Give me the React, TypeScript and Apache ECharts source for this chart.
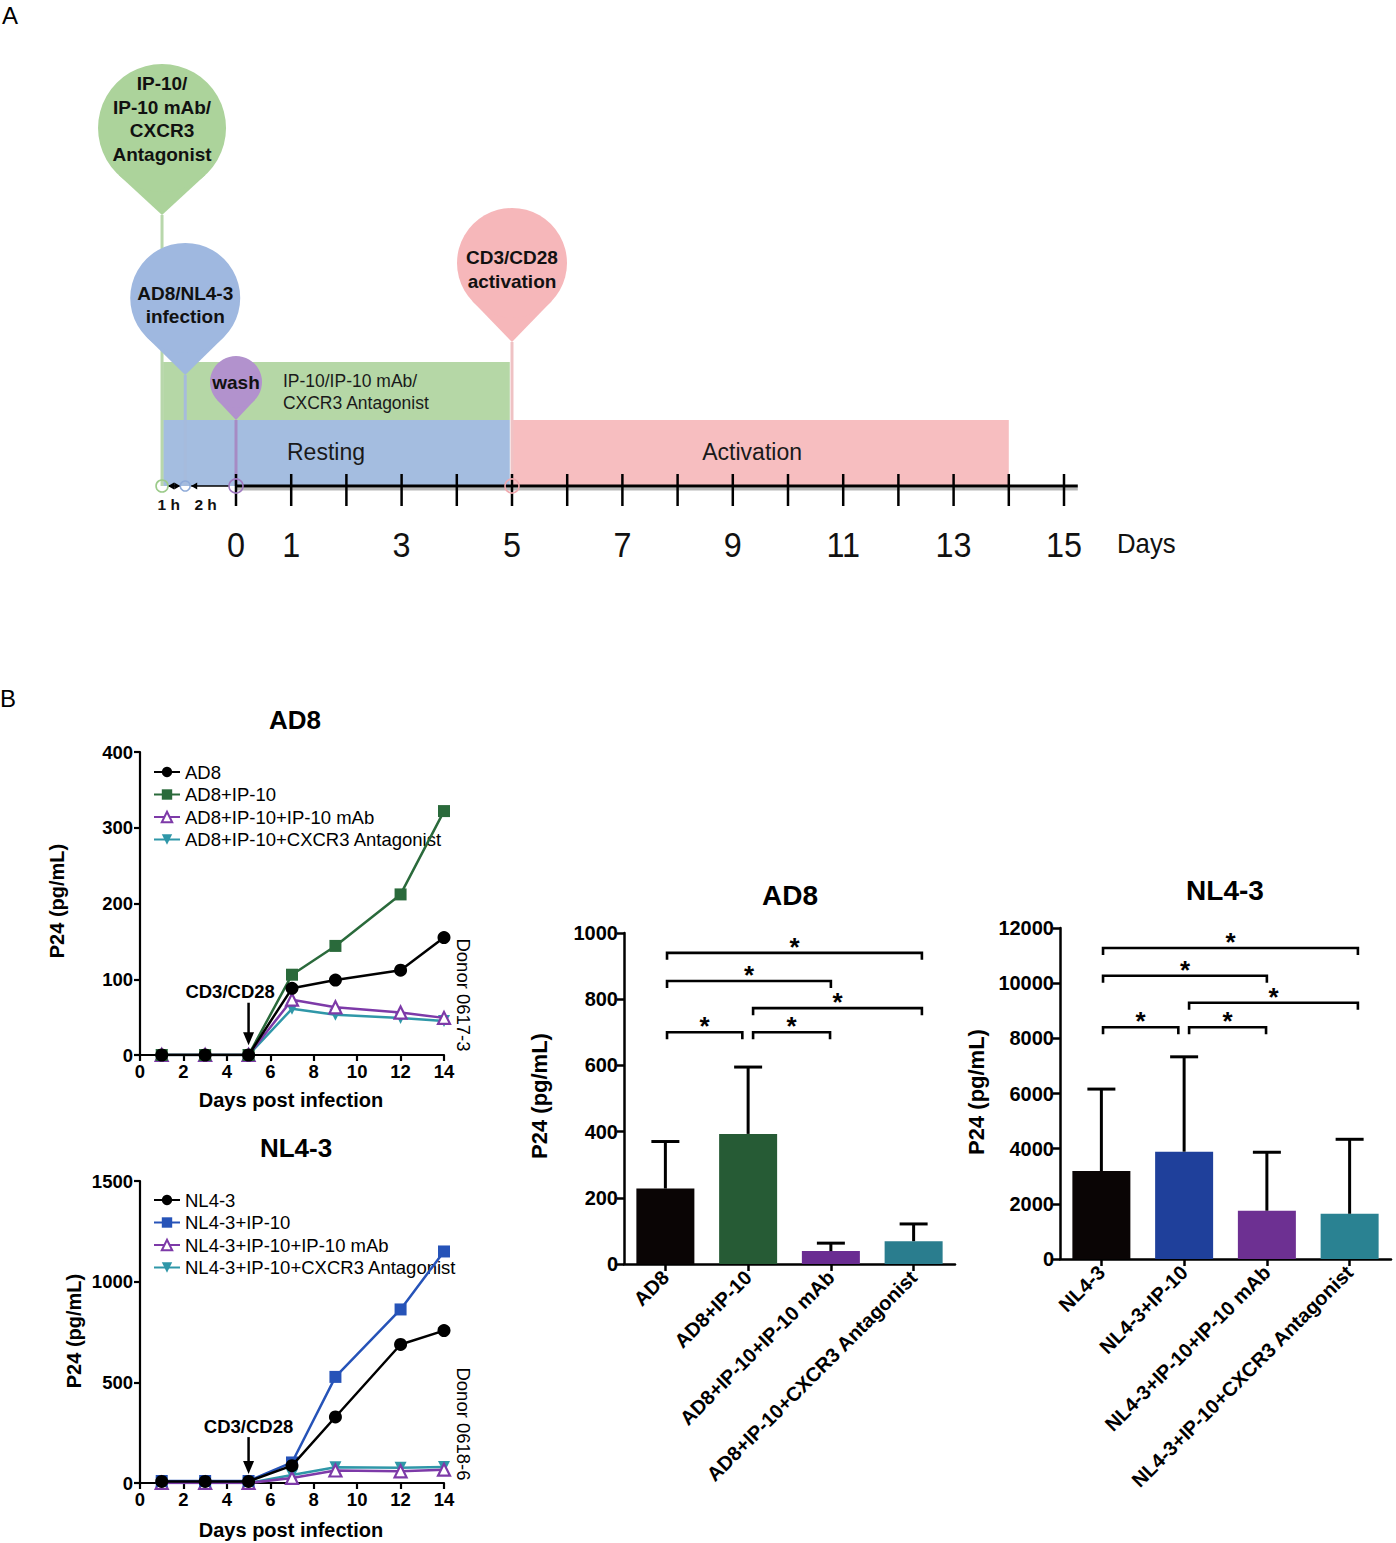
import React, { useEffect, useRef } from "react";
import * as echarts from "echarts";

const FONT = "'Liberation Sans', Arial, Helvetica, sans-serif";

// ---------------- Panel A: timeline ----------------
const tickDays = [0, 1, 2, 3, 4, 5, 6, 7, 8, 9, 10, 11, 12, 13, 14, 15];
const labelDays = [0, 1, 3, 5, 7, 9, 11, 13, 15];
const axisStartDay = -1.34;
const axisEndDay = 15.25;
const pinDays = [-1.34, -0.92, 0, 5];
const pinLabels = ["IP-10/\nIP-10 mAb/\nCXCR3\nAntagonist", "AD8/NL4-3\ninfection", "wash", "CD3/CD28\nactivation"];
const bandStartDays = [-1.32, -1.32, 5.0];
const bandEndDays = [4.96, 4.96, 14.0];
const bandLabels = ["IP-10/IP-10 mAb/\nCXCR3 Antagonist", "Resting", "Activation"];
const bandLabelDays = [0.85, 1.63, 9.35];
const hourLabels = ["1 h", "2 h"];
const hourLabelDays = [-1.22, -0.55];

// ---------------- Panel B: time courses ----------------
const days = [1, 3, 5, 7, 9, 12, 14];
const ad8Names = ["AD8", "AD8+IP-10", "AD8+IP-10+IP-10 mAb", "AD8+IP-10+CXCR3 Antagonist"];
const ad8Only = [0, 0, 0, 88, 99, 112, 155];
const ad8IP10 = [0, 0, 0, 106, 144, 212, 322];
const ad8IP10mAb = [0, 0, 0, 73, 63, 56, 49];
const ad8IP10CXCR3 = [0, 0, 0, 61, 53, 49, 45];
const ad8Arrow = [5, 69, 13, 4.15, 84];

const nl43Names = ["NL4-3", "NL4-3+IP-10", "NL4-3+IP-10+IP-10 mAb", "NL4-3+IP-10+CXCR3 Antagonist"];
const nl43Only = [8, 8, 8, 86, 328, 688, 757];
const nl43IP10 = [10, 10, 10, 102, 527, 862, 1150];
const nl43IP10mAb = [0, 0, 0, 25, 62, 58, 66];
const nl43IP10CXCR3 = [0, 0, 0, 40, 78, 76, 80];
const nl43Arrow = [5, 228, 45, 5.0, 283];

// ---------------- Panel B: bar charts ----------------
const ad8BarNames = ["AD8", "AD8+IP-10", "AD8+IP-10+IP-10 mAb", "AD8+IP-10+CXCR3 Antagonist"];
const ad8BarMeans = [228, 393, 39, 69];
const ad8BarUpper = [370, 595, 63, 121];
const ad8Brackets = [
  [0.02, 0.93, 700],
  [1.06, 1.99, 700],
  [1.06, 3.1, 773],
  [0.02, 2.0, 855],
  [0.02, 3.1, 940],
];

const nl43BarNames = ["NL4-3", "NL4-3+IP-10", "NL4-3+IP-10+IP-10 mAb", "NL4-3+IP-10+CXCR3 Antagonist"];
const nl43BarMeans = [3190, 3890, 1750, 1640];
const nl43BarUpper = [6160, 7330, 3870, 4340];
const nl43Brackets = [
  [0.02, 0.93, 8400],
  [1.06, 1.99, 8400],
  [1.06, 3.1, 9290],
  [0.02, 2.0, 10270],
  [0.02, 3.1, 11275],
];

// ---------------- styles / layout ----------------
const bandLayout = [
  { low: 66, high: 124, fill: "#b5d7a6" },
  { low: 0, high: 66, fill: "#a4bde0" },
  { low: 0, high: 66, fill: "#f7bec0" },
];
const bandTextLayout = [
  { h: 94, size: 17.5, align: "left", lh: 22 },
  { h: 34, size: 23, align: "center", lh: 24 },
  { h: 34, size: 23, align: "center", lh: 24 },
];
const pinLayout = [
  { h: 358, r: 64, tip: 271, fill: "#acd39b", stem: "#b8d7ab", ring: "#9ccb8b", ringR: 6, textDy: -9, lh: 23.5 },
  { h: 188, r: 55, tip: 111, fill: "#9fb8e0", stem: "#a6bbdc", ring: "#8eaad8", ringR: 5, textDy: 7, lh: 23 },
  { h: 104, r: 26, tip: 66, fill: "#b292cd", stem: "#a68bc4", ring: "#a07ac0", ringR: 7, textDy: 0, lh: 23 },
  { h: 223, r: 55, tip: 144, fill: "#f6b7ba", stem: "#efc2c4", ring: "#f0a8ad", ringR: 7, textDy: 6, lh: 24 },
];

const C_BLACK = "#000000";
const C_GREEN = "#2a6a3b";
const C_BLUE = "#2653b8";
const C_PURPLE = "#7d3aa8";
const C_TEAL = "#2f97a8";
const ad8BarColors = ["#0a0505", "#265b35", "#6a2c92", "#2a7d8e"];
const nl43BarColors = ["#0a0505", "#1f409b", "#6d3092", "#2a8292"];

const plain = (v: number) => String(v);

function txt(text: string, x: number, y: number, size: number, o: any = {}) {
  return {
    type: "text",
    x,
    y,
    rotation: o.rot || 0,
    scaleX: o.sx || 1,
    z: 100,
    silent: true,
    style: {
      text,
      fontSize: size,
      fontWeight: o.bold ? "bold" : "normal",
      fontFamily: FONT,
      fill: o.fill || "#000",
      align: o.align || "center",
      verticalAlign: "middle",
    },
  };
}

function axisStyle(size: number) {
  return {
    axisLine: { show: true, onZero: false, lineStyle: { color: "#000", width: 2.2 } },
    axisTick: { show: true, length: 6, lineStyle: { color: "#000", width: 2.2 } },
    axisLabel: { color: "#000", fontFamily: FONT, fontWeight: "bold", fontSize: size, margin: 7, formatter: plain },
    splitLine: { show: false },
  };
}

function lineSeries(name: string, values: number[], kind: string, idx: number) {
  const base: any = {
    type: "line",
    name,
    xAxisIndex: idx,
    yAxisIndex: idx,
    data: days.map((d, i) => [d, values[i]]),
    lineStyle: { width: 2.5 },
    z: 3,
  };
  if (kind === "black") {
    base.symbol = "circle";
    base.symbolSize = 13;
    base.itemStyle = { color: C_BLACK };
    base.lineStyle.color = C_BLACK;
    base.z = 6;
  } else if (kind === "green" || kind === "blue") {
    const c = kind === "green" ? C_GREEN : C_BLUE;
    base.symbol = "rect";
    base.symbolSize = 12;
    base.itemStyle = { color: c };
    base.lineStyle.color = c;
    base.z = 5;
  } else if (kind === "purple") {
    base.symbol = "triangle";
    base.symbolSize = 12;
    base.itemStyle = { color: "#ffffff", borderColor: C_PURPLE, borderWidth: 2.2 };
    base.lineStyle.color = C_PURPLE;
    base.z = 4;
  } else {
    base.symbol = "path://M0 0 L10 0 L5 9 Z";
    base.symbolSize = 12;
    base.itemStyle = { color: C_TEAL };
    base.lineStyle.color = C_TEAL;
    base.z = 3;
  }
  return base;
}

function arrowSeries(vals: number[], idx: number) {
  return {
    type: "custom",
    xAxisIndex: idx,
    yAxisIndex: idx,
    silent: true,
    z: 10,
    data: [vals],
    encode: { x: 0, y: 1 },
    renderItem: (params: any, api: any) => {
      const top = api.coord([api.value(0), api.value(1)]);
      const bot = api.coord([api.value(0), api.value(2)]);
      const tp = api.coord([api.value(3), api.value(4)]);
      return {
        type: "group",
        children: [
          { type: "line", shape: { x1: top[0], y1: top[1], x2: bot[0], y2: bot[1] - 10 }, style: { stroke: "#000", lineWidth: 2.5 } },
          {
            type: "polygon",
            shape: { points: [[bot[0] - 5.5, bot[1] - 13], [bot[0] + 5.5, bot[1] - 13], [bot[0], bot[1]]] },
            style: { fill: "#000" },
          },
          {
            type: "text",
            x: tp[0],
            y: tp[1],
            style: { text: "CD3/CD28", fontSize: 18.5, fontWeight: "bold", fontFamily: FONT, fill: "#000", align: "center", verticalAlign: "middle" },
          },
        ],
      };
    },
  };
}

function barSeries(means: number[], colors: string[], idx: number) {
  return {
    type: "bar",
    xAxisIndex: idx,
    yAxisIndex: idx,
    barWidth: 58,
    silent: true,
    z: 2,
    data: means.map((m, i) => ({ value: m, itemStyle: { color: colors[i] } })),
  };
}

function errorSeries(means: number[], upper: number[], idx: number) {
  return {
    type: "custom",
    xAxisIndex: idx,
    yAxisIndex: idx,
    silent: true,
    z: 4,
    data: means.map((m, i) => [i, m, upper[i]]),
    encode: { x: 0, y: 1 },
    renderItem: (params: any, api: any) => {
      const b = api.coord([api.value(0), api.value(1)]);
      const t = api.coord([api.value(0), api.value(2)]);
      return {
        type: "group",
        children: [
          { type: "line", shape: { x1: b[0], y1: b[1], x2: t[0], y2: t[1] }, style: { stroke: "#000", lineWidth: 3 } },
          { type: "line", shape: { x1: t[0] - 14, y1: t[1], x2: t[0] + 14, y2: t[1] }, style: { stroke: "#000", lineWidth: 3 } },
        ],
      };
    },
  };
}

function bracketSeries(brackets: number[][], idx: number) {
  return {
    type: "custom",
    xAxisIndex: idx,
    yAxisIndex: idx,
    silent: true,
    z: 4,
    data: brackets.map((b) => [0, b[2], b[0], b[1]]),
    encode: { x: 0, y: 1 },
    renderItem: (params: any, api: any) => {
      const c0 = api.coord([0, api.value(1)]);
      const band = api.size([1, 0])[0];
      const x1 = c0[0] + api.value(2) * band;
      const x2 = c0[0] + api.value(3) * band;
      const y = c0[1];
      return {
        type: "group",
        children: [
          {
            type: "polyline",
            shape: { points: [[x1, y + 7], [x1, y], [x2, y], [x2, y + 7]] },
            style: { stroke: "#000", lineWidth: 2.6, fill: "none" },
          },
          {
            type: "text",
            x: (x1 + x2) / 2,
            y: y - 6,
            style: { text: "*", fontSize: 26, fontWeight: "bold", fontFamily: FONT, fill: "#000", align: "center", verticalAlign: "middle" },
          },
        ],
      };
    },
  };
}

function buildOption() {
  const grids = [
    { left: 125.6, top: 40, width: 993.6, height: 446 },
    { left: 140, top: 752, width: 304, height: 303 },
    { left: 140, top: 1181, width: 304, height: 302 },
    { left: 624, top: 933, width: 331, height: 331 },
    { left: 1060, top: 928, width: 331, height: 331 },
  ];

  const catAxis = (grid: number, names: string[]) => ({
    gridIndex: grid,
    type: "category",
    data: names,
    splitLine: { show: false },
    axisTick: { show: true, alignWithLabel: true, length: 7, lineStyle: { color: "#000", width: 2.5 } },
    axisLine: { show: true, lineStyle: { color: "#000", width: 2.5 } },
    axisLabel: { color: "#000", fontFamily: FONT, fontWeight: "bold", fontSize: 20, rotate: 45, interval: 0, margin: 10 },
  });

  const xAxis: any[] = [
    { gridIndex: 0, type: "value", min: -2, max: 16, show: false },
    { gridIndex: 1, type: "value", min: 0, max: 14, interval: 2, ...axisStyle(18.5) },
    { gridIndex: 2, type: "value", min: 0, max: 14, interval: 2, ...axisStyle(18.5) },
    catAxis(3, ad8BarNames),
    catAxis(4, nl43BarNames),
  ];
  const barY = (max: number, interval: number, grid: number) => ({
    gridIndex: grid,
    type: "value",
    min: 0,
    max,
    interval,
    splitLine: { show: false },
    axisTick: { show: true, length: 7, lineStyle: { color: "#000", width: 2.5 } },
    axisLine: { show: true, lineStyle: { color: "#000", width: 2.5 } },
    axisLabel: { color: "#000", fontFamily: FONT, fontWeight: "bold", fontSize: 20, margin: 6, formatter: plain },
  });
  const yAxis: any[] = [
    { gridIndex: 0, type: "value", min: 0, max: 446, show: false },
    { gridIndex: 1, type: "value", min: 0, max: 400, interval: 100, ...axisStyle(18.5) },
    { gridIndex: 2, type: "value", min: 0, max: 1500, interval: 500, ...axisStyle(18.5) },
    barY(1000, 200, 3),
    barY(12000, 2000, 4),
  ];

  const tl = { xAxisIndex: 0, yAxisIndex: 0, type: "custom", silent: true, encode: { x: 0, y: 1 } };

  const series: any[] = [
    // phase bands
    {
      ...tl,
      z: 1,
      data: bandStartDays.map((s, i) => [s, 0, bandEndDays[i]]),
      renderItem: (params: any, api: any) => {
        const i = params.dataIndex;
        const L = bandLayout[i];
        const T = bandTextLayout[i];
        const p0 = api.coord([api.value(0), L.low]);
        const p1 = api.coord([api.value(2), L.high]);
        const tp = api.coord([bandLabelDays[i], T.h]);
        return {
          type: "group",
          children: [
            { type: "rect", shape: { x: p0[0], y: p1[1], width: p1[0] - p0[0], height: p0[1] - p1[1] }, style: { fill: L.fill } },
            {
              type: "text",
              x: tp[0],
              y: tp[1],
              style: { text: bandLabels[i], fontSize: T.size, fontFamily: FONT, fill: "#1a1a1a", align: T.align, verticalAlign: "middle", lineHeight: T.lh },
            },
          ],
        };
      },
    },
    // pins
    {
      ...tl,
      z: 2,
      data: pinDays.map((d) => [d, 0]),
      renderItem: (params: any, api: any) => {
        const i = params.dataIndex;
        const L = pinLayout[i];
        const day = api.value(0);
        const c = api.coord([day, L.h]);
        const t = api.coord([day, L.tip]);
        const a = api.coord([day, 0]);
        const d = t[1] - c[1];
        const cos = L.r / d;
        const sin = Math.sqrt(1 - cos * cos);
        return {
          type: "group",
          children: [
            { type: "line", shape: { x1: t[0], y1: t[1], x2: a[0], y2: a[1] }, style: { stroke: L.stem, lineWidth: 3 } },
            {
              type: "polygon",
              shape: { points: [[c[0] - L.r * sin, c[1] + L.r * cos], [c[0] + L.r * sin, c[1] + L.r * cos], [t[0], t[1]]] },
              style: { fill: L.fill },
            },
            { type: "circle", shape: { cx: c[0], cy: c[1], r: L.r }, style: { fill: L.fill } },
            {
              type: "text",
              x: c[0],
              y: c[1] + L.textDy,
              style: { text: pinLabels[i], fontSize: 19, fontWeight: "bold", fontFamily: FONT, fill: "#111", align: "center", verticalAlign: "middle", lineHeight: L.lh },
            },
          ],
        };
      },
    },
    // axis line, arrows, hour labels
    {
      ...tl,
      z: 3,
      data: [[axisStartDay, 0, axisEndDay]],
      renderItem: (params: any, api: any) => {
        const s = api.coord([api.value(0), 0]);
        const e = api.coord([api.value(2), 0]);
        const z0 = api.coord([0, 0]);
        const b = api.coord([pinDays[1], 0]);
        const y = s[1];
        const head = (x: number, dir: number) => ({
          type: "polygon",
          shape: { points: [[x, y], [x + dir * 6, y - 3.5], [x + dir * 6, y + 3.5]] },
          style: { fill: "#000" },
        });
        const children: any[] = [
          { type: "line", shape: { x1: z0[0], y1: y + 3, x2: e[0], y2: y + 3 }, style: { stroke: "#b8b8b8", lineWidth: 3 } },
          { type: "line", shape: { x1: z0[0], y1: y, x2: e[0], y2: y }, style: { stroke: "#000", lineWidth: 3 } },
          { type: "line", shape: { x1: s[0] + 6, y1: y, x2: b[0] - 5, y2: y }, style: { stroke: "#000", lineWidth: 1.5 } },
          head(s[0] + 6, 1),
          head(b[0] - 5, -1),
          { type: "line", shape: { x1: b[0] + 6, y1: y, x2: z0[0] - 7, y2: y }, style: { stroke: "#000", lineWidth: 1.5 } },
          head(b[0] + 6, 1),
        ];
        hourLabels.forEach((h, k) => {
          const p = api.coord([hourLabelDays[k], 0]);
          children.push({
            type: "text",
            x: p[0],
            y: y + 18,
            style: { text: h, fontSize: 15.5, fontWeight: "bold", fontFamily: FONT, fill: "#111", align: "center", verticalAlign: "middle" },
          });
        });
        return { type: "group", children };
      },
    },
    // ticks
    {
      ...tl,
      z: 4,
      data: tickDays.map((d) => [d, 0]),
      renderItem: (params: any, api: any) => {
        const p = api.coord([api.value(0), 0]);
        return { type: "line", shape: { x1: p[0], y1: p[1] - 12, x2: p[0], y2: p[1] + 20 }, style: { stroke: "#000", lineWidth: 2.5 } };
      },
    },
    // rings on the axis
    {
      ...tl,
      z: 5,
      data: pinDays.map((d) => [d, 0]),
      renderItem: (params: any, api: any) => {
        const L = pinLayout[params.dataIndex];
        const p = api.coord([api.value(0), 0]);
        return { type: "circle", shape: { cx: p[0], cy: p[1], r: L.ringR }, style: { fill: "none", stroke: L.ring, lineWidth: 1.6 } };
      },
    },
    // day labels
    {
      ...tl,
      z: 5,
      data: labelDays.map((d) => [d, 0]),
      renderItem: (params: any, api: any) => {
        const p = api.coord([api.value(0), 0]);
        return {
          type: "text",
          x: p[0],
          y: p[1] + 58,
          scaleX: 0.9,
          style: { text: String(api.value(0)), fontSize: 36, fontFamily: FONT, fill: "#111", align: "center", verticalAlign: "middle" },
        };
      },
    },

    // AD8 time course
    lineSeries(ad8Names[3], ad8IP10CXCR3, "teal", 1),
    lineSeries(ad8Names[2], ad8IP10mAb, "purple", 1),
    lineSeries(ad8Names[1], ad8IP10, "green", 1),
    lineSeries(ad8Names[0], ad8Only, "black", 1),
    arrowSeries(ad8Arrow, 1),

    // NL4-3 time course
    lineSeries(nl43Names[3], nl43IP10CXCR3, "teal", 2),
    lineSeries(nl43Names[2], nl43IP10mAb, "purple", 2),
    lineSeries(nl43Names[1], nl43IP10, "blue", 2),
    lineSeries(nl43Names[0], nl43Only, "black", 2),
    arrowSeries(nl43Arrow, 2),

    // bars
    barSeries(ad8BarMeans, ad8BarColors, 3),
    errorSeries(ad8BarMeans, ad8BarUpper, 3),
    bracketSeries(ad8Brackets, 3),
    barSeries(nl43BarMeans, nl43BarColors, 4),
    errorSeries(nl43BarMeans, nl43BarUpper, 4),
    bracketSeries(nl43Brackets, 4),
  ];

  const legendText = { fontSize: 18.5, fontFamily: FONT, color: "#000" };
  const legend = [
    { data: ad8Names, left: 153, top: 762.5, orient: "vertical", itemGap: 3.5, itemWidth: 26, itemHeight: 13, padding: 0, selectedMode: false, textStyle: legendText },
    { data: nl43Names, left: 153, top: 1190.5, orient: "vertical", itemGap: 3.5, itemWidth: 26, itemHeight: 13, padding: 0, selectedMode: false, textStyle: legendText },
  ];

  const graphic = [
    txt("A", 10, 15, 24, { align: "center" }),
    txt("B", 8, 698, 24, { align: "center" }),
    txt("Days", 1117, 544, 28, { align: "left", sx: 0.92, fill: "#111" }),
    txt("AD8", 295, 720, 26, { bold: true }),
    txt("NL4-3", 296, 1148, 26, { bold: true }),
    txt("AD8", 790, 895, 28, { bold: true }),
    txt("NL4-3", 1225, 890, 28, { bold: true }),
    txt("P24 (pg/mL)", 57, 901, 20, { bold: true, rot: Math.PI / 2 }),
    txt("P24 (pg/mL)", 74, 1331, 20, { bold: true, rot: Math.PI / 2 }),
    txt("P24 (pg/mL)", 539, 1096, 22, { bold: true, rot: Math.PI / 2 }),
    txt("P24 (pg/mL)", 976, 1092, 22, { bold: true, rot: Math.PI / 2 }),
    txt("Days post infection", 291, 1100, 20, { bold: true }),
    txt("Days post infection", 291, 1530, 20, { bold: true }),
    txt("Donor 0617-3", 463, 995, 18.5, { rot: -Math.PI / 2 }),
    txt("Donor 0618-6", 463, 1424, 18.5, { rot: -Math.PI / 2 }),
  ];

  return { animation: false, backgroundColor: "#ffffff", grid: grids, xAxis, yAxis, series, legend, graphic };
}

export default function App() {
  const ref = useRef<HTMLDivElement>(null);
  useEffect(() => {
    if (!ref.current) return;
    const chart = echarts.init(ref.current, null, { renderer: "svg" });
    chart.setOption(buildOption() as any);
    return () => chart.dispose();
  }, []);
  return (
    <div
      ref={ref}
      style={{ position: "absolute", left: 0, top: 0, width: 1396, height: 1543, background: "#fff" }}
    />
  );
}
